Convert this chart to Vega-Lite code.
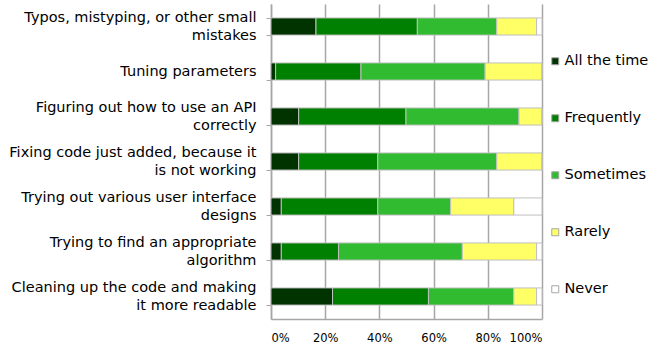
{
  "$schema": "https://vega.github.io/schema/vega-lite/v6.json",
  "width": 271,
  "height": 315,
  "autosize": {"type": "none"},
  "padding": {"left": 271, "top": 4, "right": 109, "bottom": 29},
  "background": "white",
  "config": {"view": {"stroke": null}, "font": "DejaVu Sans"},
  "data": {"values": [
    {"task": "Typos, mistyping, or other small\nmistakes", "response": "All the time", "ord": 1, "pct": 16.6},
    {"task": "Typos, mistyping, or other small\nmistakes", "response": "Frequently", "ord": 2, "pct": 37.4},
    {"task": "Typos, mistyping, or other small\nmistakes", "response": "Sometimes", "ord": 3, "pct": 29.3},
    {"task": "Typos, mistyping, or other small\nmistakes", "response": "Rarely", "ord": 4, "pct": 14.7},
    {"task": "Typos, mistyping, or other small\nmistakes", "response": "Never", "ord": 5, "pct": 2.0},
    {"task": "Tuning parameters", "response": "All the time", "ord": 1, "pct": 1.7},
    {"task": "Tuning parameters", "response": "Frequently", "ord": 2, "pct": 31.5},
    {"task": "Tuning parameters", "response": "Sometimes", "ord": 3, "pct": 45.8},
    {"task": "Tuning parameters", "response": "Rarely", "ord": 4, "pct": 21.0},
    {"task": "Tuning parameters", "response": "Never", "ord": 5, "pct": 0},
    {"task": "Figuring out how to use an API\ncorrectly", "response": "All the time", "ord": 1, "pct": 10.2},
    {"task": "Figuring out how to use an API\ncorrectly", "response": "Frequently", "ord": 2, "pct": 39.6},
    {"task": "Figuring out how to use an API\ncorrectly", "response": "Sometimes", "ord": 3, "pct": 41.7},
    {"task": "Figuring out how to use an API\ncorrectly", "response": "Rarely", "ord": 4, "pct": 8.5},
    {"task": "Figuring out how to use an API\ncorrectly", "response": "Never", "ord": 5, "pct": 0},
    {"task": "Fixing code just added, because it\nis not working", "response": "All the time", "ord": 1, "pct": 10.2},
    {"task": "Fixing code just added, because it\nis not working", "response": "Frequently", "ord": 2, "pct": 29.2},
    {"task": "Fixing code just added, because it\nis not working", "response": "Sometimes", "ord": 3, "pct": 43.9},
    {"task": "Fixing code just added, because it\nis not working", "response": "Rarely", "ord": 4, "pct": 16.7},
    {"task": "Fixing code just added, because it\nis not working", "response": "Never", "ord": 5, "pct": 0},
    {"task": "Trying out various user interface\ndesigns", "response": "All the time", "ord": 1, "pct": 3.8},
    {"task": "Trying out various user interface\ndesigns", "response": "Frequently", "ord": 2, "pct": 35.6},
    {"task": "Trying out various user interface\ndesigns", "response": "Sometimes", "ord": 3, "pct": 26.9},
    {"task": "Trying out various user interface\ndesigns", "response": "Rarely", "ord": 4, "pct": 23.3},
    {"task": "Trying out various user interface\ndesigns", "response": "Never", "ord": 5, "pct": 10.4},
    {"task": "Trying to find an appropriate\nalgorithm", "response": "All the time", "ord": 1, "pct": 3.8},
    {"task": "Trying to find an appropriate\nalgorithm", "response": "Frequently", "ord": 2, "pct": 21.1},
    {"task": "Trying to find an appropriate\nalgorithm", "response": "Sometimes", "ord": 3, "pct": 45.7},
    {"task": "Trying to find an appropriate\nalgorithm", "response": "Rarely", "ord": 4, "pct": 27.4},
    {"task": "Trying to find an appropriate\nalgorithm", "response": "Never", "ord": 5, "pct": 2.0},
    {"task": "Cleaning up the code and making\nit more readable", "response": "All the time", "ord": 1, "pct": 22.7},
    {"task": "Cleaning up the code and making\nit more readable", "response": "Frequently", "ord": 2, "pct": 35.4},
    {"task": "Cleaning up the code and making\nit more readable", "response": "Sometimes", "ord": 3, "pct": 31.5},
    {"task": "Cleaning up the code and making\nit more readable", "response": "Rarely", "ord": 4, "pct": 8.4},
    {"task": "Cleaning up the code and making\nit more readable", "response": "Never", "ord": 5, "pct": 2.0}
  ]},
  "mark": {"type": "bar", "stroke": "#bfbfbf", "strokeWidth": 1},
  "encoding": {
    "y": {
      "field": "task", "type": "nominal", "sort": null,
      "scale": {"paddingInner": 0.62, "paddingOuter": 0.31},
      "axis": {
        "title": null, "labelExpr": "split(datum.label, '\\n')",
        "labelFontSize": 14.5, "labelColor": "black", "labelPadding": 10,
        "labelLineHeight": 18, "labelLimit": 300,
        "labelBaseline": {"condition": {"test": "length(split(datum.value, '\\n')) > 1", "value": "line-bottom"}, "value": "middle"},
        "tickBand": "extent", "tickColor": "#a6a6a6", "tickSize": 5,
        "domainColor": "#a6a6a6", "domainWidth": 1.5, "grid": false
      }
    },
    "x": {
      "field": "pct", "type": "quantitative", "stack": "normalize",
      "scale": {"domain": [0, 1]},
      "axis": {
        "title": null, "format": "%", "values": [0, 0.2, 0.4, 0.6, 0.8, 1],
        "labelFontSize": 11.5, "labelColor": "black", "labelPadding": 13,
        "domain": true, "domainColor": "#a6a6a6", "domainWidth": 1.5, "ticks": false,
        "grid": true, "gridColor": "#a6a6a6", "gridWidth": 1.5
      }
    },
    "color": {
      "field": "response", "type": "nominal",
      "scale": {
        "domain": ["All the time", "Frequently", "Sometimes", "Rarely", "Never"],
        "range": ["#013300", "#008000", "#30bb30", "#ffff66", "#ffffff"]
      },
      "legend": {
        "title": null, "orient": "none", "legendX": 277, "legendY": 50,
        "symbolType": "square", "symbolSize": 49, "symbolStrokeColor": "#a6a6a6", "symbolStrokeWidth": 1,
        "labelFontSize": 14.5, "labelColor": "black", "labelOffset": 2, "rowPadding": 42
      }
    },
    "order": {"field": "ord", "type": "quantitative"}
  }
}
